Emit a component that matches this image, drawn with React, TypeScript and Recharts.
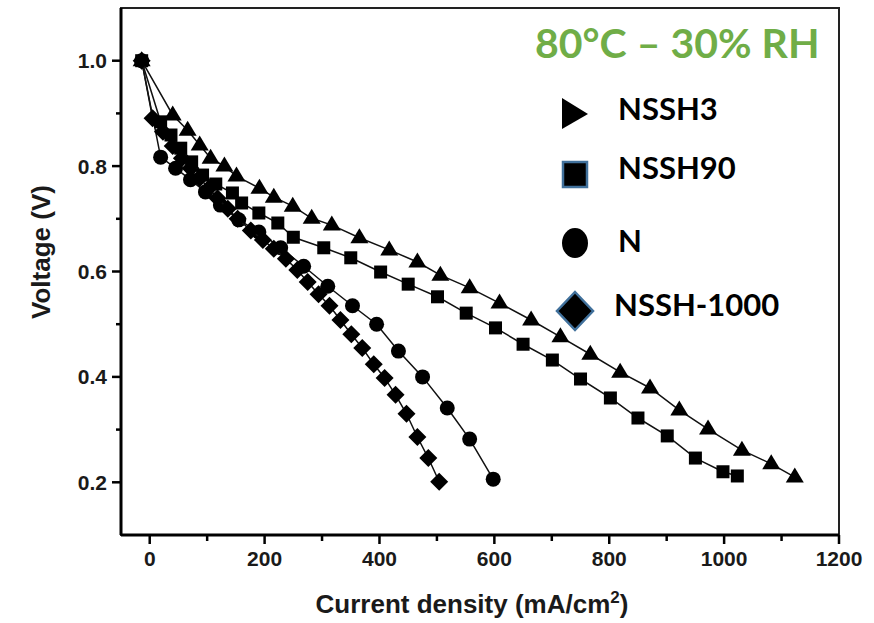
import { ScatterChart, Scatter, XAxis, YAxis, ReferenceArea } from 'recharts';

// NSSH3 (triangles)
const nssh3X = [-14, 40, 66, 87, 106, 130, 151, 191, 216, 249, 282, 317, 365, 417, 466, 506, 557, 609, 664, 715, 767, 819, 871, 922, 972, 1031, 1082, 1123];
const nssh3V = [1.0, 0.897, 0.868, 0.84, 0.815, 0.8, 0.781, 0.758, 0.741, 0.724, 0.701, 0.688, 0.664, 0.641, 0.618, 0.593, 0.569, 0.54, 0.508, 0.476, 0.443, 0.409, 0.379, 0.337, 0.301, 0.261, 0.235, 0.21];

// NSSH90 (squares)
const nssh90X = [-14, 19, 37, 54, 73, 92, 115, 144, 160, 190, 223, 250, 303, 350, 402, 450, 501, 551, 602, 650, 701, 750, 802, 850, 901, 950, 998, 1023];
const nssh90V = [1.0, 0.884, 0.859, 0.834, 0.808, 0.783, 0.766, 0.749, 0.73, 0.711, 0.692, 0.665, 0.645, 0.626, 0.599, 0.576, 0.552, 0.521, 0.493, 0.462, 0.432, 0.396, 0.36, 0.322, 0.288, 0.246, 0.22, 0.212];

// N (circles)
const nX = [-14, 19, 45, 71, 97, 123, 155, 190, 228, 268, 310, 353, 395, 433, 475, 518, 557, 598];
const nV = [1.0, 0.817, 0.796, 0.774, 0.751, 0.726, 0.698, 0.675, 0.645, 0.61, 0.572, 0.535, 0.5, 0.449, 0.4, 0.341, 0.282, 0.206];

// NSSH-1000 (diamonds)
const n1000X = [-14, 5, 23, 40, 56, 71, 87, 103, 118, 136, 153, 176, 197, 216, 237, 257, 275, 294, 313, 332, 351, 370, 390, 409, 428, 447, 466, 485, 504];
const n1000V = [1.0, 0.891, 0.865, 0.838, 0.815, 0.796, 0.777, 0.758, 0.739, 0.719, 0.7, 0.678, 0.66, 0.643, 0.624, 0.603, 0.58, 0.557, 0.535, 0.508, 0.481, 0.455, 0.424, 0.398, 0.366, 0.33, 0.286, 0.246, 0.201];

const xTicks = [0, 100, 200, 300, 400, 500, 600, 700, 800, 900, 1000, 1100, 1200];
const yTicks = [0.2, 0.3, 0.4, 0.5, 0.6, 0.7, 0.8, 0.9, 1.0];

const toPoints = (xs: number[], vs: number[]) => xs.map((x, i) => ({ x, v: vs[i] }));

const TICK_FONT = { fontFamily: 'Liberation Sans, Arial, sans-serif', fontWeight: 700, fontSize: 21, fill: '#1a1a1a' };

const Triangle = (p: any) => (
  <polygon points={`${p.cx},${p.cy - 9.5} ${p.cx + 9},${p.cy + 5.5} ${p.cx - 9},${p.cy + 5.5}`} fill="#000" />
);
const Square = (p: any) => <rect x={p.cx - 6.5} y={p.cy - 6.5} width={13} height={13} fill="#000" />;
const Circle = (p: any) => <circle cx={p.cx} cy={p.cy} r={7.5} fill="#000" />;
const Diamond = (p: any) => (
  <polygon points={`${p.cx},${p.cy - 9} ${p.cx + 9},${p.cy} ${p.cx},${p.cy + 9} ${p.cx - 9},${p.cy}`} fill="#000" />
);

const YTick = (p: any) => {
  const v = p.payload.value;
  const major = Math.round(v * 10) % 2 === 0;
  return (
    <g>
      <line x1={p.x - (major ? 9 : 5)} x2={p.x} y1={p.y} y2={p.y} stroke="#000" strokeWidth={2.5} />
      {major && (
        <text x={p.x - 14} y={p.y} dy={7.5} textAnchor="end" {...TICK_FONT}>
          {v.toFixed(1)}
        </text>
      )}
    </g>
  );
};

const XTick = (p: any) => {
  const v = p.payload.value;
  const major = v % 200 === 0;
  return (
    <g>
      <line x1={p.x} x2={p.x} y1={p.y} y2={p.y + (major ? 9 : 6)} stroke="#000" strokeWidth={2.5} />
      {major && (
        <text x={p.x} y={p.y + 31} textAnchor="middle" {...TICK_FONT}>
          {v}
        </text>
      )}
    </g>
  );
};

const lineStyle = { stroke: '#111', strokeWidth: 1.5 };
const LEGEND_FONT = { fontFamily: 'Lato, sans-serif', fontWeight: 700, fontSize: 31, fill: '#000' };
const LABEL_FONT = { fontFamily: 'Liberation Sans, Arial, sans-serif', fontWeight: 700, fontSize: 26, fill: '#1a1a1a' };

export default function App() {
  return (
    <div style={{ position: 'absolute', left: 0, top: 0, width: 874, height: 623, background: '#fff' }}>
      <ScatterChart width={874} height={623} margin={{ top: 8, right: 35, left: 0, bottom: 0 }}>
        <XAxis
          type="number"
          dataKey="x"
          domain={[-50, 1200]}
          ticks={xTicks}
          interval={0}
          height={88}
          tickSize={0}
          tickMargin={0}
          tickLine={false}
          tick={<XTick />}
          axisLine={{ stroke: '#000', strokeWidth: 3 }}
          allowDataOverflow
        />
        <YAxis
          type="number"
          dataKey="v"
          domain={[0.1, 1.1]}
          ticks={yTicks}
          interval={0}
          width={121}
          tickSize={0}
          tickMargin={0}
          tickLine={false}
          tick={<YTick />}
          axisLine={{ stroke: '#000', strokeWidth: 3 }}
          allowDataOverflow
        />
        <ReferenceArea x1={-50} x2={1200} y1={0.1} y2={1.1} fill="none" stroke="#222" strokeWidth={2} />
        <Scatter data={toPoints(nX, nV)} line={lineStyle} shape={Circle} isAnimationActive={false} />
        <Scatter data={toPoints(n1000X, n1000V)} line={lineStyle} shape={Diamond} isAnimationActive={false} />
        <Scatter data={toPoints(nssh90X, nssh90V)} line={lineStyle} shape={Square} isAnimationActive={false} />
        <Scatter data={toPoints(nssh3X, nssh3V)} line={lineStyle} shape={Triangle} isAnimationActive={false} />
      </ScatterChart>
      <svg width={874} height={623} style={{ position: 'absolute', left: 0, top: 0, pointerEvents: 'none' }}>
        <text x={535} y={58} fontFamily="Lato, sans-serif" fontWeight={700} fontSize={41} fill="#70ad47">
          80°C – 30% RH
        </text>
        <polygon points="562,98 588,114 562,129" fill="#000" />
        <text x={618} y={120} {...LEGEND_FONT}>NSSH3</text>
        <rect x={563} y={162} width={24} height={25} fill="#000" stroke="#41719c" strokeWidth={2.5} />
        <text x={618} y={179} {...LEGEND_FONT}>NSSH90</text>
        <ellipse cx={575} cy={243} rx={13} ry={15} fill="#000" />
        <text x={618} y={252} {...LEGEND_FONT}>N</text>
        <polygon points="575,292 593,311 575,330 557,311" fill="#000" stroke="#41719c" strokeWidth={2.5} />
        <text x={614} y={316} {...LEGEND_FONT}>NSSH-1000</text>
        <text transform="translate(50,252) rotate(-90)" textAnchor="middle" {...LABEL_FONT}>
          Voltage (V)
        </text>
        <text x={472} y={613} textAnchor="middle" {...LABEL_FONT}>
          Current density (mA/cm
          <tspan dy={-10} fontSize={17}>2</tspan>
          <tspan dy={10}>)</tspan>
        </text>
      </svg>
    </div>
  );
}
